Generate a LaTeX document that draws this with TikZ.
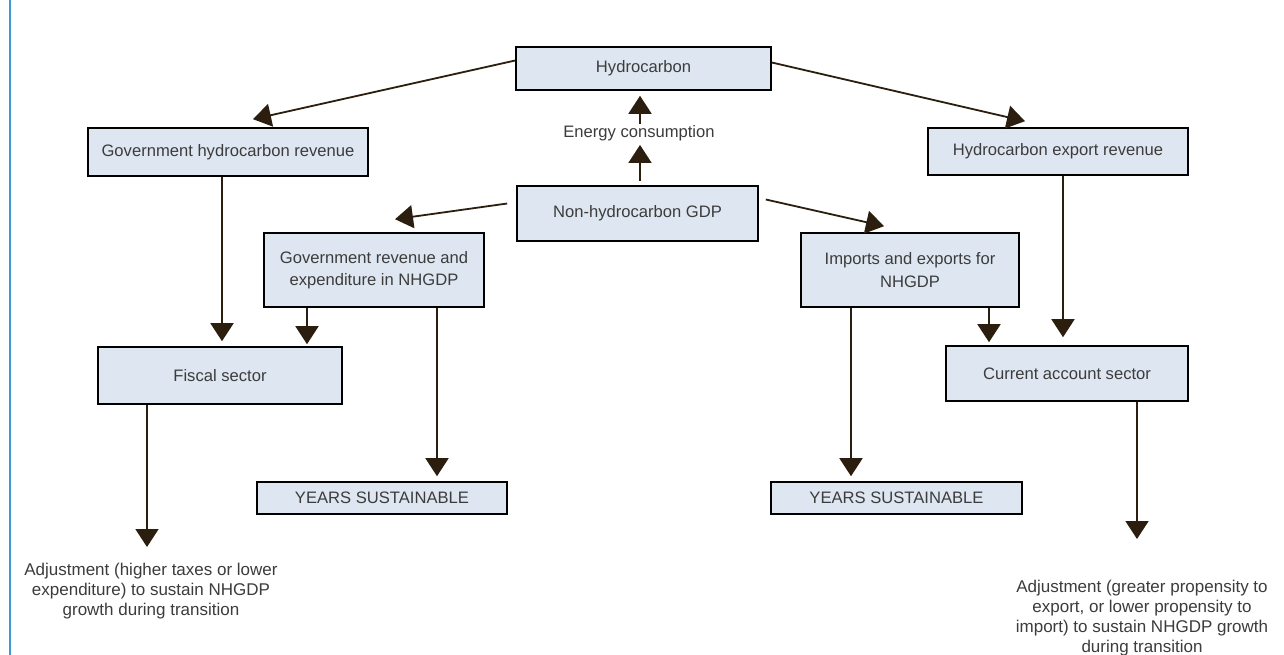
\documentclass[tikz,border=0pt]{standalone}
\usepackage{fontspec}
\setmainfont{Liberation Sans}
\usetikzlibrary{arrows.meta,calc}
\definecolor{boxfill}{HTML}{DEE7F1}
\definecolor{arr}{HTML}{2B1E0E}
\definecolor{txt}{HTML}{3C3C3C}
\definecolor{bluel}{HTML}{3D9AD1}
\begin{document}
\begin{tikzpicture}[x=1pt,y=-1pt,
  font=\fontsize{16.6}{22.5}\selectfont,
  box/.style={draw=black, line width=1.6pt, fill=boxfill, text=txt, inner sep=0pt, align=center, anchor=center},
  con/.style={draw=arr, line width=1.8pt, -{Triangle[width=23pt,length=18pt]}},
  plain/.style={text=txt, align=center, inner sep=1pt},
  note/.style={text=txt, align=center, inner sep=1pt, anchor=north, font=\fontsize{17}{20}\selectfont}]
\useasboundingbox (0,0) rectangle (1284,655);
\fill[white] (0,0) rectangle (1284,655);
\draw[bluel, line width=2pt] (10,0) -- (10,655);

\node[box, minimum width=255pt, minimum height=43pt] (hyd) at (643.5,68.5) {Hydrocarbon};
\node[box, minimum width=280pt, minimum height=48pt] (ghr) at (228,152) {Government hydrocarbon revenue};
\node[box, minimum width=260pt, minimum height=47pt] (her) at (1058,151.5) {Hydrocarbon export revenue};
\node[box, minimum width=241pt, minimum height=55pt] (nhg) at (637.5,213.5) {Non-hydrocarbon GDP};
\node[box, minimum width=220pt, minimum height=74pt] (gre) at (374,270) {Government revenue and\\expenditure in NHGDP};
\node[box, minimum width=218pt, minimum height=74pt] (imp) at (910,270) {Imports and exports for\\NHGDP};
\node[box, minimum width=244pt, minimum height=57pt] (fis) at (220,375.5) {Fiscal sector};
\node[box, minimum width=242pt, minimum height=55pt] (cur) at (1067,373.5) {Current account sector};
\node[box, minimum width=250pt, minimum height=32pt] (ys1) at (382,498) {YEARS SUSTAINABLE};
\node[box, minimum width=251pt, minimum height=32pt] (ys2) at (896.5,498) {YEARS SUSTAINABLE};

\node[plain] (eng) at (639,133) {Energy consumption};
\node[note] (adj1) at (151,562) {Adjustment (higher taxes or lower\\expenditure) to sustain NHGDP\\growth during transition};
\node[note] (adj2) at (1142,579) {Adjustment (greater propensity to\\export, or lower propensity to\\import) to sustain NHGDP growth\\during transition};

% top arrows
\draw[con] ([yshift=8pt]hyd.west) -- ([xshift=25pt,yshift=8pt]ghr.north);
\draw[con] ([yshift=6pt]hyd.east) -- ([xshift=-33pt,yshift=6pt]her.north);
\draw[con, shorten <=4pt, shorten >=3pt] (nhg.north -| 640,0) -- (eng.south -| 640,0);
\draw[con, shorten >=5pt] (eng.north -| 640,0) -- (hyd.south -| 640,0);
\draw[con] ([xshift=-9pt,yshift=10pt]nhg.west) -- ([xshift=21pt,yshift=13pt]gre.north);
\draw[con] ([xshift=7pt,yshift=14pt]nhg.east) -- ([xshift=-26pt,yshift=6pt]imp.north);

% verticals
\draw[con, shorten >=5pt] (ghr.south -| 222,0) -- (fis.north -| 222,0);
\draw[con, shorten >=2pt] (gre.south -| 307,0) -- (fis.north -| 307,0);
\draw[con, shorten >=5pt] (gre.south -| 437,0) -- (ys1.north -| 437,0);
\draw[con, shorten >=3pt] (imp.south -| 989,0) -- (cur.north -| 989,0);
\draw[con, shorten >=8pt] (her.south -| 1063,0) -- (cur.north -| 1063,0);
\draw[con, shorten >=5pt] (imp.south -| 851,0) -- (ys2.north -| 851,0);
\draw[con, shorten >=15pt] (fis.south -| 147,0) -- (adj1.north -| 147,0);
\draw[con, shorten >=40pt] (cur.south -| 1137,0) -- (adj2.north -| 1137,0);
\end{tikzpicture}
\end{document}
